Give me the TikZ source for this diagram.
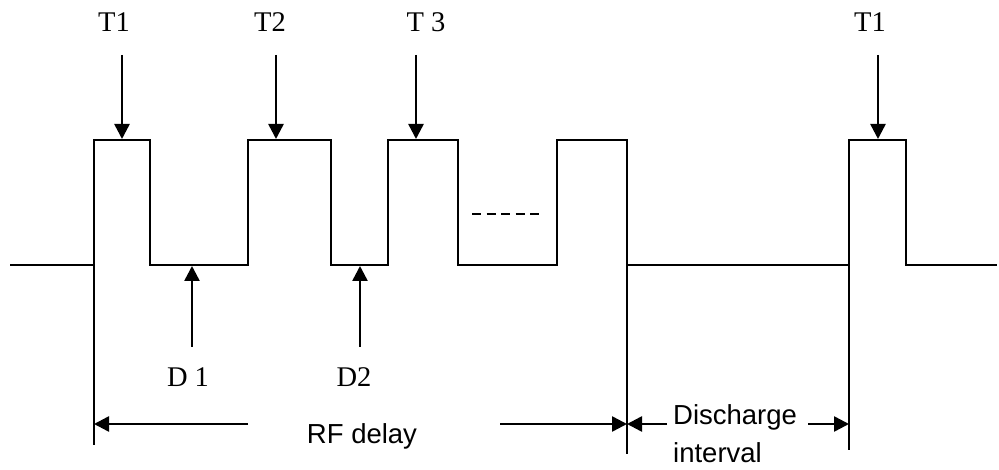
\documentclass[tikz,border=0pt]{standalone}
\usepackage{fontspec}
\setmainfont{Liberation Serif}
\setsansfont{Liberation Sans}
\usetikzlibrary{arrows.meta}
\begin{document}
\begin{tikzpicture}[x=1pt,y=-1pt,
  wave/.style={line width=2.8pt, line join=miter},
  dimline/.style={line width=2.2pt},
  arr/.style={line width=2.5pt,-{Triangle[length=15pt,width=15pt]}},
  dashline/.style={line width=2.2pt, dash pattern=on 9pt off 5.5pt},
  tlab/.style={font=\fontsize{28.5}{32}\selectfont, anchor=base, inner sep=0pt},
  slab/.style={font=\sffamily\fontsize{27.5}{32}\selectfont, inner sep=0pt}]
\useasboundingbox (0,0) rectangle (999,470);
% waveform
\draw[wave] (10,265) -- (94,265) -- (94,140) -- (150,140) -- (150,265) -- (248,265) -- (248,140) -- (331,140) -- (331,265) -- (388,265) -- (388,140) -- (458,140) -- (458,265) -- (557,265) -- (557,140) -- (627,140) -- (627,265) -- (849,265) -- (849,140) -- (906,140) -- (906,265) -- (997,265);
\draw[dashline] (472,214) -- (539,214);
% coordinates
\coordinate (p1) at (122,139);
\coordinate (p2) at (276,139);
\coordinate (p3) at (416,139);
\coordinate (p5) at (878,139);
\coordinate (s1) at (122,55);
\coordinate (s2) at (276,55);
\coordinate (s3) at (416,55);
\coordinate (s5) at (878,55);
\coordinate (d1) at (192,266);
\coordinate (d2) at (360,266);
\coordinate (e1) at (192,347);
\coordinate (e2) at (360,347);
\coordinate (v1t) at (94,265);
\coordinate (v1b) at (94,445);
\coordinate (v2t) at (627,265);
\coordinate (v2b) at (627,454);
\coordinate (v3t) at (849,265);
\coordinate (v3b) at (849,450);
\coordinate (rfl) at (94,424);
\coordinate (rfa) at (248,424);
\coordinate (rfb) at (500,424);
\coordinate (rfr) at (627,424);
\coordinate (dil) at (627,424);
\coordinate (dia) at (667,424);
\coordinate (dib) at (808,424);
\coordinate (dir) at (849,424);
% labels
\node[tlab] (T1) at (114,32) {T1};
\node[tlab] (T2) at (270,32) {T2};
\node[tlab] (T3) at (426,32) {T 3};
\node[tlab] (T1b) at (870,32) {T1};
\node[tlab] (D1) at (188,387) {D 1};
\node[tlab] (D2) at (354,387) {D2};
\node[slab, anchor=base] (rf) at (362,443) {RF delay};
\node[slab, anchor=base west] (dis) at (673,424) {Discharge};
\node[slab, anchor=base west] (int) at (673,462) {interval};
% arrows
\draw[arr] (s1) -- (p1);
\draw[arr] (s2) -- (p2);
\draw[arr] (s3) -- (p3);
\draw[arr] (s5) -- (p5);
\draw[arr] (e1) -- (d1);
\draw[arr] (e2) -- (d2);
\draw[dimline] (v1t) -- (v1b);
\draw[dimline] (v2t) -- (v2b);
\draw[dimline] (v3t) -- (v3b);
\draw[arr] (rfa) -- (rfl);
\draw[arr] (rfb) -- (rfr);
\draw[arr] (dia) -- (dil);
\draw[arr] (dib) -- (dir);
\end{tikzpicture}
\end{document}
